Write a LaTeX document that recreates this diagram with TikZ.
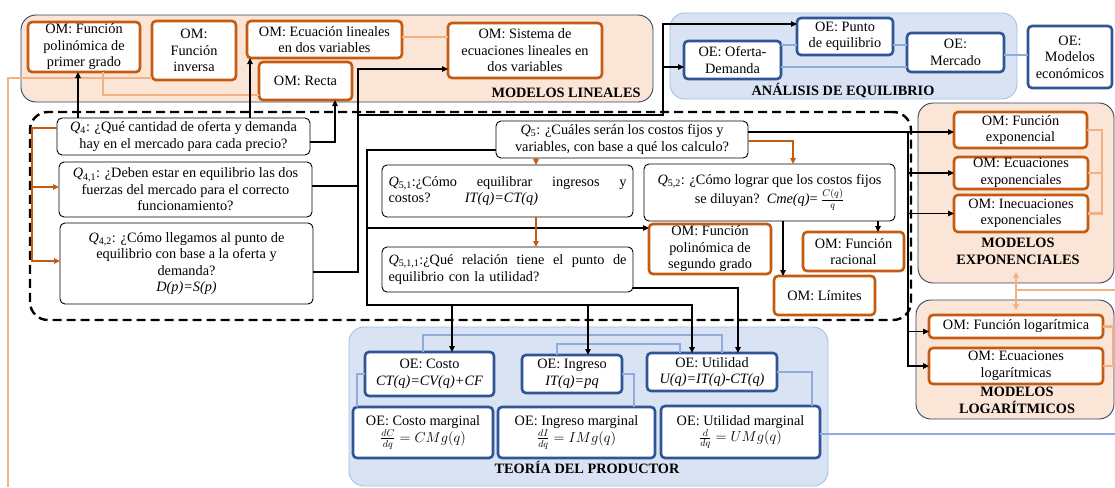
\documentclass[tikz,border=0pt]{standalone}
\usepackage{fontspec}
\setmainfont{Liberation Serif}
\usetikzlibrary{arrows.meta,calc}
\definecolor{peach}{HTML}{FBE5D6}
\definecolor{navy}{HTML}{2E4466}
\definecolor{omc}{HTML}{C55A11}
\definecolor{lorange}{HTML}{F4B183}
\definecolor{bfill}{HTML}{DAE3F3}
\definecolor{bedge}{HTML}{9DC3E6}
\definecolor{oec}{HTML}{2F5597}
\definecolor{lblue}{HTML}{8FAADC}
\tikzset{
  every node/.style={font=\fontsize{14.3}{16.5}\selectfont, inner sep=0pt, outer sep=0pt},
  om/.style={draw=omc, line width=2.6pt, rounded corners=4pt, fill=white, align=center},
  oe/.style={draw=oec, line width=2.6pt, rounded corners=4pt, fill=white, align=center},
  qb/.style={draw=black, line width=0.9pt, rounded corners=5pt, fill=white, align=center},
  regO/.style={draw=navy, line width=0.9pt, fill=peach, rounded corners=15pt},
  regB/.style={draw=bedge, line width=0.9pt, fill=bfill, rounded corners=15pt},
  dreg/.style={draw=black, line width=2.4pt, dash pattern=on 9pt off 5pt, rounded corners=18pt},
  rlab/.style={font=\fontsize{14.3}{17}\selectfont\bfseries, align=center},
  lo/.style={draw=lorange, line width=2.4pt},
  lb/.style={draw=lblue, line width=2.4pt},
  ar/.style={draw=black, line width=1.5pt, -{Triangle[length=6pt,width=5.5pt]}},
  ln/.style={draw=black, line width=1.5pt},
  oa/.style={draw=omc, line width=1.5pt, -{Triangle[length=6pt,width=5.5pt]}},
}
\newcommand{\Qs}[1]{\textit{Q}\textsubscript{#1}}
\begin{document}
\begin{tikzpicture}[x=1pt,y=-1pt]
\useasboundingbox (0,0) rectangle (1115,487);

% ---------- regions ----------
\node[regO, minimum width=632pt, minimum height=87pt] (rlin) at (337,58.5) {};
\node[regB, minimum width=347pt, minimum height=86pt] (rae) at (843.5,56) {};
\node[regO, minimum width=196pt, minimum height=180pt] (rexp) at (1016,193) {};
\node[regO, minimum width=198pt, minimum height=119pt] (rlog) at (1015,359.5) {};
\node[regB, minimum width=479pt, minimum height=159pt] (rtp) at (588.5,406.5) {};
\node[dreg, minimum width=881pt, minimum height=208pt] (rdash) at (470.5,216) {};

\node[rlab] (llin) at (566,93) {MODELOS LINEALES};
\node[rlab] (lae) at (843,91) {ANÁLISIS DE EQUILIBRIO};
\node[rlab] (lexp) at (1018,251) {MODELOS\\EXPONENCIALES};
\node[rlab] (llog) at (1017,400) {MODELOS\\LOGARÍTMICOS};
\node[rlab] (ltp) at (587,467) {TEORÍA DEL PRODUCTOR};

% ---------- boxes: modelos lineales ----------
\node[om, minimum width=112pt, minimum height=50pt] (fp1) at (84,47) {OM: Función\\polinómica de\\primer grado};
\node[om, minimum width=84pt, minimum height=59pt] (finv) at (194,50.5) {OM:\\Función\\inversa};
\node[om, minimum width=155pt, minimum height=37pt] (ecl) at (324.5,39.5) {OM: Ecuación lineales\\en dos variables};
\node[om, minimum width=93pt, minimum height=38pt] (recta) at (305.5,81) {OM: Recta};
\node[om, minimum width=154pt, minimum height=55pt] (sist) at (525,50.5) {OM: Sistema de\\ecuaciones lineales en\\dos variables};

% ---------- análisis de equilibrio ----------
\node[oe, minimum width=97pt, minimum height=38pt] (ofd) at (732.5,60) {OE: Oferta-\\Demanda};
\node[oe, minimum width=96pt, minimum height=37pt] (peq) at (845,36.5) {OE: Punto\\de equilibrio};
\node[oe, minimum width=97pt, minimum height=39pt] (merc) at (955.5,52.5) {OE:\\Mercado};
\node[oe, minimum width=84pt, minimum height=62pt] (mecon) at (1070,57) {OE:\\Modelos\\económicos};

% ---------- exponenciales / logarítmicos ----------
\node[om, minimum width=133pt, minimum height=36pt] (fexp) at (1020.5,130) {OM: Función\\exponencial};
\node[om, minimum width=134pt, minimum height=32pt] (eexp) at (1021,173) {OM: Ecuaciones\\exponenciales};
\node[om, minimum width=134pt, minimum height=37pt] (iexp) at (1021,213.5) {OM: Inecuaciones\\exponenciales};
\node[om, minimum width=174pt, minimum height=23pt] (flog) at (1016,326.5) {OM: Función logarítmica};
\node[om, minimum width=174pt, minimum height=36pt] (elog) at (1016,366) {OM: Ecuaciones\\logarítmicas};

% ---------- questions ----------
\node[qb, minimum width=253pt, minimum height=37pt] (q4) at (183.5,136.5) {\Qs{4}: ¿Qué cantidad de oferta y demanda\\hay en el mercado para cada precio?};
\node[qb, minimum width=253pt, minimum height=55pt] (q41) at (185.5,189.5) {\Qs{4,1}: ¿Deben estar en equilibrio las dos\\fuerzas del mercado para el correcto\\funcionamiento?};
\node[qb, minimum width=253pt, minimum height=81pt] (q42) at (186.5,263.5) {\Qs{4,2}: ¿Cómo llegamos al punto de\\equilibrio con base a la oferta y\\demanda?\\\textit{D(p)=S(p)}};
\node[qb, minimum width=252pt, minimum height=37pt] (q5) at (622,139.5) {\Qs{5}: ¿Cuáles serán los costos fijos y\\variables, con base a qué los calculo?};
\node[qb, minimum width=251pt, minimum height=52pt, text width=238pt, align=left] (q51) at (507.5,191) {\Qs{5,1}:¿Cómo\hfill equilibrar\hfill ingresos\hfill y\\costos?\hspace{2.4em}\textit{IT(q)=CT(q)}};
\node[qb, minimum width=251pt, minimum height=57pt] (q52) at (769.5,192.5) {\Qs{5,2}: ¿Cómo lograr que los costos fijos\\se diluyan?\ \ \textit{Cme(q)}= $\frac{C(q)}{q}$};
\node[qb, minimum width=251pt, minimum height=45pt, text width=238pt, align=left] (q511) at (507.5,269.5) {\Qs{5,1,1}:¿Qué\hfill relación\hfill tiene\hfill el\hfill punto\hfill de\\equilibrio con la utilidad?};

\node[om, minimum width=122pt, minimum height=50pt] (fp2) at (710,249) {OM: Función\\polinómica de\\segundo grado};
\node[om, minimum width=101pt, minimum height=39pt] (frac) at (853.5,251.5) {OM: Función\\racional};
\node[om, minimum width=101pt, minimum height=39pt] (lim) at (824.5,295.5) {OM: Límites};

% ---------- teoría del productor ----------
\node[oe, minimum width=129pt, minimum height=44pt] (cost) at (429.5,374) {OE: Costo\\\textit{CT(q)=CV(q)+CF}};
\node[oe, minimum width=100pt, minimum height=38pt] (ing) at (572,374) {OE: Ingreso\\\textit{IT(q)=pq}};
\node[oe, minimum width=130pt, minimum height=38pt] (util) at (712,372) {OE: Utilidad\\\textit{U(q)=IT(q)-CT(q)}};
\node[oe, minimum width=140pt, minimum height=51pt] (cmg) at (423,432.5) {OE: Costo marginal\\$\frac{dC}{dq}=CMg(q)$};
\node[oe, minimum width=157pt, minimum height=51pt] (img) at (576.5,432.5) {OE: Ingreso marginal\\$\frac{dI}{dq}=IMg(q)$};
\node[oe, minimum width=159pt, minimum height=52pt] (umg) at (740.5,432) {OE: Utilidad marginal\\$\frac{d}{dq}=UMg(q)$};

\coordinate (lobot) at (8,487);
\coordinate (dexp) at (1016,272);
\coordinate (dlog) at (1016,310);
\coordinate (dmid) at (1016,290);
\coordinate (redge) at (1115,290);
\coordinate (bedge) at (1115,434);

% ---------- light orange connectors ----------
\begin{scope}[on background layer/.style={}]
\draw[lo] ([yshift=2pt]finv.south west) -| (lobot);
\draw[lo] ([xshift=19pt]fp1.south) |- ([yshift=-14pt]recta.west);
\draw[lo] ($(ecl.east)+(0,-2.5)$) -- ++(46,0);
\draw[lo] (fexp.east) -- ++(15,0) |- (iexp.east);
\draw[lo] (eexp.east) -- ++(14,0);
\draw[lo] (flog.east) -- ++(10,0) |- (elog.east);
\draw[lo, {Triangle[length=6pt,width=6pt]}-{Triangle[length=6pt,width=6pt]}] (dexp) -- (dlog);
\draw[lo] (dmid) -- (redge);
\end{scope}

% ---------- light blue connectors ----------
\draw[lb] ($(ofd.east)+(0,-15)$) -- ++(16,0);
\draw[lb] ($(peq.east)+(0,8.5)$) -- ++(14,0);
\draw[lb] ($(ofd.east)+(0,7)$) -- ++(126,0);
\draw[lb] ($(merc.east)+(0,2.5)$) -- ++(24,0);
\draw[lb] ($(cost.north)+(-6.5,0)$) -- ++(0,-17) -| ($(util.north)+(10,0)$);
\draw[lb] ($(ing.north)+(-15,0)$) -- ++(0,-11) -| ($(util.north)+(-32,0)$);
\draw[lb] (cost.west) -| ($(cmg.north west)+(4,0)$);
\draw[lb] (ing.east) -| ($(img.north west)+(136,0)$);
\draw[lb] (util.east) -| ($(umg.north west)+(151,0)$);
\draw[lb] ($(umg.east)+(0,2)$) -- (bedge);

% ---------- black arrows ----------
\draw[ar] ($(fp1.south |- q4.north)+(-6,0)$) -- ($(fp1.south)+(-6,0)$);
\draw[ar] ($(ecl.south |- q4.north)+(-74.5,0)$) -- ($(ecl.south)+(-74.5,0)$);
\draw[ar] ($(q4.east)+(0,5.5)$) -| ($(recta.south)+(29.5,0)$);
\draw[ln] ($(q41.east)+(0,-3.5)$) -- ++(46,0);
\draw[ar] ($(q42.east)+(0,8.5)$) -| ($(sist.west)+(-90,18.5)$) -- ($(sist.west)+(0,18.5)$);
\draw[ar] ($(sist.west)+(-90,64.5)$) -| ($(peq.west)+(-134,-12.5)$) -- ($(peq.west)+(0,-12.5)$);
\draw[ar] ($(ofd.west)+(-21,7)$) -- ($(ofd.west)+(0,7)$);

\draw[ar] ($(q5.west)+(0,10.5)$) -| ($(cost.north)+(-62.5,-47)$) -| ($(util.north)+(-20,0)$);
\draw[ar] ($(cost.north)+(22.5,-47)$) -- ($(cost.north)+(22.5,0)$);
\draw[ar] ($(ing.north)+(16,-50)$) -- ($(ing.north)+(16,0)$);
\draw[ar] ($(fp2.west)+(-282,-21)$) -- ($(fp2.west)+(0,-21)$);
\draw[ar] ($(q511.east)+(0,18.5)$) -| ($(util.north)+(26,0)$);
\draw[ar] ($(lim.north |- q52.south)+(-41.5,0)$) -- ($(lim.north)+(-41.5,0)$);
\draw[ar] ($(frac.north |- q52.south)+(24.5,0)$) -- ($(frac.north)+(24.5,0)$);
\draw[ar] ($(q5.east)+(0,-7.5)$) -- ($(fexp.west)+(0,2)$);
\draw[ar] ($(fexp.west)+(-46,2)$) |- (elog.west);
\draw[ar] ($(eexp.west)+(-46,0)$) -- (eexp.west);
\draw[ar] ($(iexp.west)+(-46,0)$) -- (iexp.west);
\draw[ar] ($(flog.west)+(-21,5)$) -- ($(flog.west)+(0,5)$);

% ---------- orange arrows ----------
\draw[oa] ($(q51.north |- q5.south)+(28.5,0)$) -- ($(q51.north)+(28.5,0)$);
\draw[oa] ($(q51.south)+(28.5,0)$) -- ($(q511.north)+(28.5,0)$);
\draw[oa] ($(q5.east)+(0,1.5)$) -| ($(q52.north)+(23.5,0)$);
\draw[oa] ($(q4.west)+(0,-8.5)$) -| ($(q42.west)+(-28,-2.5)$) -- ($(q42.west)+(0,-2.5)$);
\draw[oa] ($(q41.west)+(-27,-2.5)$) -- ($(q41.west)+(0,-2.5)$);
\end{tikzpicture}
\end{document}
